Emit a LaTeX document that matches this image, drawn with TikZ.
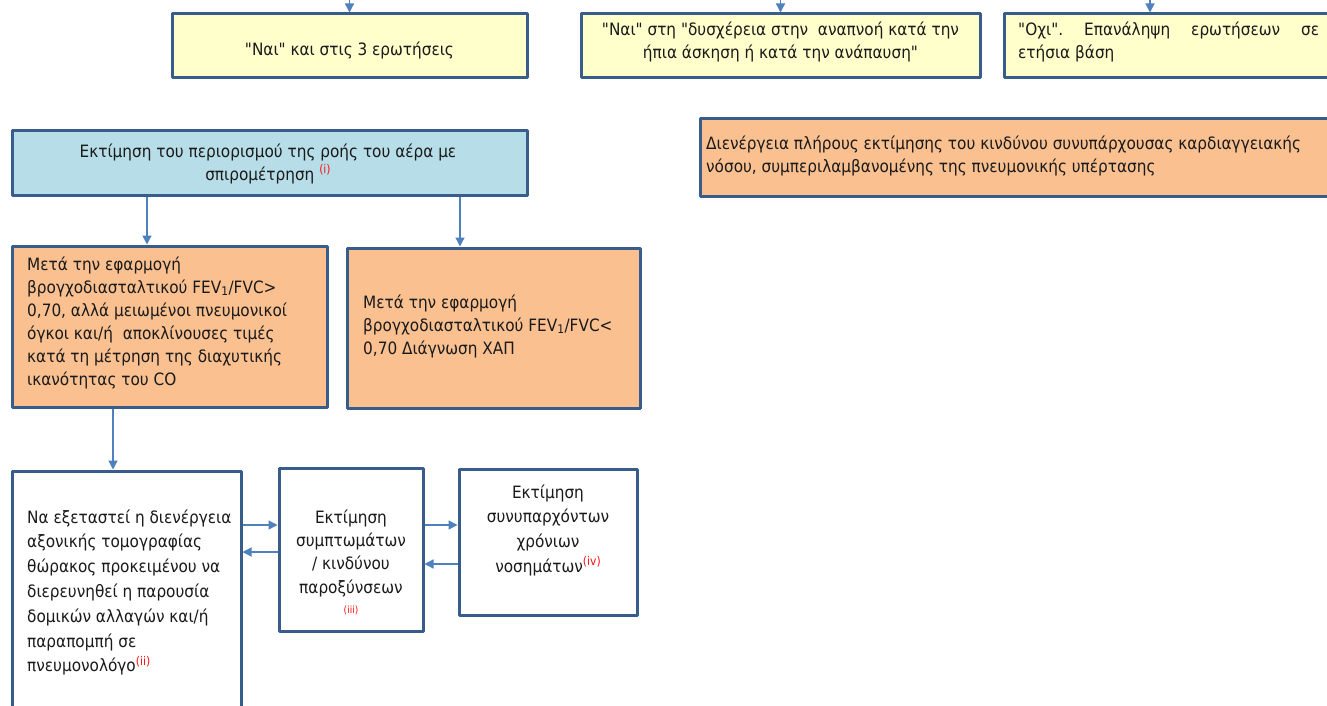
\documentclass[tikz,border=0pt]{standalone}
\usepackage{fontspec}
\setmainfont{DejaVu Sans Condensed}[Ligatures=TeXOff]
\usetikzlibrary{arrows.meta}

\definecolor{framec}{HTML}{385D8A}
\definecolor{arrowc}{HTML}{4F81BD}
\definecolor{yellowfill}{HTML}{FFFFCC}
\definecolor{bluefill}{HTML}{B7DEE8}
\definecolor{orangefill}{HTML}{FAC090}
\definecolor{textc}{HTML}{1A1A1A}
\definecolor{notec}{HTML}{FF1010}

% red reference marks and straight double quotes
\newcommand{\note}[1]{\raisebox{6.5pt}{\fontsize{12}{13}\selectfont\textcolor{notec}{#1}}}
\newcommand{\qd}{\symbol{34}}

\begin{document}
\begin{tikzpicture}[x=1pt,y=-1pt,
  box/.style={draw=framec, line width=3pt, line join=round, inner sep=0pt},
  txt/.style={inner sep=0pt, text=textc, font=\fontsize{17}{23}\selectfont},
  arr/.style={draw=arrowc, line width=1.3pt, -{Triangle[length=9pt,width=9pt]}}]
\useasboundingbox (0,0) rectangle (1327,706);
\clip (0,0) rectangle (1327,706);
\fill[white] (0,0) rectangle (1327,706);

% top row of answers
\node[box, fill=yellowfill, minimum width=355pt, minimum height=64pt] (b1) at (349.5,46) {};
\node[box, fill=yellowfill, minimum width=399pt, minimum height=64pt] (b2) at (780.5,46) {};
\node[box, fill=yellowfill, minimum width=336pt, minimum height=64pt] (b3) at (1172,46) {};
\node[txt, anchor=north, align=center] (b1t) at (349.5,38.9) {\strut\qd Ναι\qd{} και στις 3 ερωτήσεις};
\node[txt, anchor=north, align=center] (b2t) at (780.5,18.9)
  {\strut\qd Ναι\qd{} στη \qd δυσχέρεια στην \ αναπνοή κατά την\\ήπια άσκηση ή κατά την ανάπαυση\qd};
\node[txt, anchor=north west, align=left] (b3t) at (1018,18.9)
  {\strut\makebox[301pt][s]{\qd Οχι\qd.\ Επανάληψη ερωτήσεων σε}\\ετήσια βάση};

% spirometry and cardiovascular assessment
\node[box, fill=bluefill, minimum width=515pt, minimum height=64pt] (spiro) at (269.5,163) {};
\node[txt, anchor=north, align=center] (spirot) at (268,140.9)
  {\strut Εκτίμηση του περιορισμού της ροής του αέρα με\\σπιρομέτρηση \note{(i)}};
\node[box, fill=orangefill, minimum width=640pt, minimum height=77pt] (cardio) at (1020,157.5) {};
\node[txt, anchor=north west, align=left] (cardiot) at (706,132.9)
  {\strut Διενέργεια πλήρους εκτίμησης του κινδύνου συνυπάρχουσας καρδιαγγειακής\\νόσου, συμπεριλαμβανομένης της πνευμονικής υπέρτασης};

% spirometry outcomes
\node[box, fill=orangefill, minimum width=315pt, minimum height=161pt] (A) at (169.5,326.5) {};
\node[txt, anchor=north west, align=left] (At) at (27,253.9)
  {\strut Μετά την εφαρμογή\\βρογχοδιασταλτικού FEV\textsubscript{1}/FVC>\\0,70, αλλά μειωμένοι πνευμονικοί\\όγκοι και/ή \ αποκλίνουσες τιμές\\κατά τη μέτρηση της διαχυτικής\\ικανότητας του CO};
\node[box, fill=orangefill, minimum width=293pt, minimum height=160pt] (B) at (493.5,328) {};
\node[txt, anchor=north west, align=left] (Bt) at (363,291.9)
  {\strut Μετά την εφαρμογή\\βρογχοδιασταλτικού FEV\textsubscript{1}/FVC<\\0,70 Διάγνωση ΧΑΠ};

% follow-up assessments
\node[box, fill=white, minimum width=229pt, minimum height=242pt] (C) at (126.5,592) {};
\node[txt, anchor=north west, align=left, font=\fontsize{17}{24.8}\selectfont] (Ct) at (27,505.6)
  {\strut Να εξεταστεί η διενέργεια\\αξονικής τομογραφίας\\θώρακος προκειμένου να\\διερευνηθεί η παρουσία\\δομικών αλλαγών και/ή\\παραπομπή σε\\πνευμονολόγο\note{(ii)}};
\node[box, fill=white, minimum width=144pt, minimum height=163pt] (D) at (351,549.5) {};
\node[txt, anchor=north, align=center, font=\fontsize{17}{23.3}\selectfont] (Dt) at (351,506.7)
  {\strut Εκτίμηση\\συμπτωμάτων\\/ κινδύνου\\παροξύνσεων\\[-3.3pt]{\fontsize{10}{12}\selectfont\textcolor{notec}{(iii)}}};
\node[box, fill=white, minimum width=178pt, minimum height=146pt] (E) at (548,542) {};
\node[txt, anchor=north, align=center, font=\fontsize{17}{24.7}\selectfont] (Et) at (548,480.7)
  {\strut Εκτίμηση\\συνυπαρχόντων\\χρόνιων\\νοσημάτων\note{(iv)}};

% connectors
\coordinate (t1) at (349.5,0);
\coordinate (t2) at (780.5,0);
\coordinate (t3) at (1150,0);
\draw[arr] (t1) -- (b1.north);
\draw[arr] (t2) -- (b2.north);
\draw[arr] (t3) -- (t3 |- b3.north);

\coordinate (pa) at (147,0);
\coordinate (pb) at (460,0);
\coordinate (pc) at (113,0);
\draw[arr] (pa |- spiro.south) -- (pa |- A.north);
\draw[arr] (pb |- spiro.south) -- (pb |- B.north);
\draw[arr] (pc |- A.south) -- (pc |- C.north);

\coordinate (r1) at (0,525);
\coordinate (r2) at (0,552);
\coordinate (r3) at (0,564);
\draw[arr] (r1 -| C.east) -- (r1 -| D.west);
\draw[arr] (r2 -| D.west) -- (r2 -| C.east);
\draw[arr] (r1 -| D.east) -- (r1 -| E.west);
\draw[arr] (r3 -| E.west) -- (r3 -| D.east);
\end{tikzpicture}
\end{document}
